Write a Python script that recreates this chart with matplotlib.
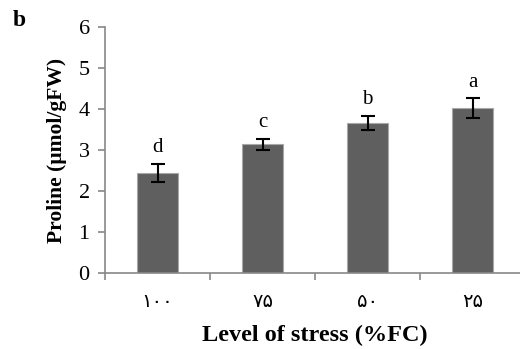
import matplotlib.pyplot as plt
import numpy as np

# data
levels = ['۱۰۰', '۷۵', '۵۰', '۲۵']
proline = [2.43, 3.14, 3.66, 4.02]
err = [0.22, 0.13, 0.18, 0.24]
letters = ['d', 'c', 'b', 'a']

plt.rcParams['font.family'] = ['Liberation Serif', 'DejaVu Sans']

fig = plt.figure(figsize=(5.2, 3.49), dpi=100)
ax = fig.add_axes([105/520, (349-272.7)/349, 420/520, 245.4/349])

x = np.arange(len(levels))
ax.bar(x, proline, width=0.39, color='#5f5f5f', edgecolor='#a8a8a8', linewidth=0.8, zorder=2)
ax.errorbar(x, proline, yerr=err, fmt='none', ecolor='black', elinewidth=1.5,
            capsize=5, capthick=1.5, zorder=3)
for xi, v, e, l in zip(x, proline, err, letters):
    ax.annotate(l, (xi, v + e), xytext=(0, 5), textcoords='offset points',
                ha='center', va='bottom', fontsize=15)

ax.set_xlim(-0.5, 3.5)
ax.set_ylim(0, 6)
ax.set_yticks(range(7))
ax.tick_params(axis='y', labelsize=16, direction='out', length=5, color='#888888', width=1.2, pad=6)

# x ticks at category boundaries, labels at centers
ax.set_xticks([-0.5, 0.5, 1.5, 2.5], minor=False)
ax.set_xticklabels([])
ax.set_xticks(x, minor=True)
ax.set_xticklabels(levels, minor=True, family=['DejaVu Sans'], fontsize=14)
ax.tick_params(axis='x', which='major', direction='out', length=5, color='#888888', width=1.2)
ax.tick_params(axis='x', which='minor', length=0, pad=14)

for s in ['top', 'right']:
    ax.spines[s].set_visible(False)
for s in ['left', 'bottom']:
    ax.spines[s].set_color('#888888')
    ax.spines[s].set_linewidth(1.2)

ax.set_ylabel('Proline (µmol/gFW)', fontsize=15.5, fontweight='bold', labelpad=8)
ax.set_xlabel('Level of stress (%FC)', fontsize=17.5, fontweight='bold', labelpad=10)
fig.text(13/520, 1 - 21/349, 'b', fontsize=17, fontweight='bold', va='center')

fig.savefig('out.png', dpi=100)
